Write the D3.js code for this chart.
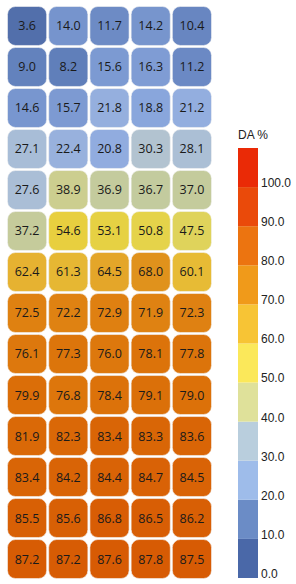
<!DOCTYPE html>
<html>
<head>
<meta charset="utf-8">
<script src="https://cdn.jsdelivr.net/npm/d3@7"></script>
<style>
  body { margin: 0; background: #fff; }
  svg { display: block; }
</style>
</head>
<body>
<div id="chart"></div>
<script>
// Data
const rows = d3.range(14);
const cols = d3.range(5);
const values = [
    [3.6, 14.0, 11.7, 14.2, 10.4],
    [9.0, 8.2, 15.6, 16.3, 11.2],
    [14.6, 15.7, 21.8, 18.8, 21.2],
    [27.1, 22.4, 20.8, 30.3, 28.1],
    [27.6, 38.9, 36.9, 36.7, 37.0],
    [37.2, 54.6, 53.1, 50.8, 47.5],
    [62.4, 61.3, 64.5, 68.0, 60.1],
    [72.5, 72.2, 72.9, 71.9, 72.3],
    [76.1, 77.3, 76.0, 78.1, 77.8],
    [79.9, 76.8, 78.4, 79.1, 79.0],
    [81.9, 82.3, 83.4, 83.3, 83.6],
    [83.4, 84.2, 84.4, 84.7, 84.5],
    [85.5, 85.6, 86.8, 86.5, 86.2],
    [87.2, 87.2, 87.6, 87.8, 87.5]
];
const legendTicks = [0, 10, 20, 30, 40, 50, 60, 70, 80, 90, 100];
const legendBands = d3.range(0, 110, 10);
const legendTitle = "DA %";

// Colours
const cellStops = [0, 10, 20, 25, 30, 37, 40, 50, 55, 62, 68, 72, 80, 88, 100];
const cellColors = ["#46639f", "#6685c0", "#8eaae0", "#a2b9da", "#b1c3d2", "#c4cb9c", "#d0d088",
    "#e4d44c", "#e8cf3e", "#e6b432", "#e0921c", "#df8212", "#db6e08", "#d75a04", "#d23a02"];
const bandColors = ["#4a68a8", "#6b8cc6", "#9ebcea", "#b9cedd", "#dfe19a", "#fbe85a",
    "#f7c435", "#f09a1a", "#ec7410", "#ea4a0a", "#ea2a06"];

const width = 296, height = 584;

const svg = d3.select("#chart").append("svg")
    .attr("width", width)
    .attr("height", height);

const x = d3.scaleBand().domain(cols).range([7.5, 211.5]).paddingInner(0.05);
const y = d3.scaleBand().domain(rows).range([6.5, 578.5]).paddingInner(0.05);
const color = d3.scaleLinear().domain(cellStops).range(cellColors).clamp(true);

const cells = [];
values.forEach((row, r) => row.forEach((v, c) => cells.push({ r, c, v })));

const cell = svg.append("g").attr("class", "cells")
    .selectAll("g").data(cells).join("g")
    .attr("transform", d => `translate(${x(d.c)},${y(d.r)})`);

cell.append("rect")
    .attr("width", x.bandwidth())
    .attr("height", y.bandwidth())
    .attr("rx", 8)
    .attr("fill", d => color(d.v))
    .attr("stroke", "#f4f4f4")
    .attr("stroke-width", 0.6);

cell.append("text")
    .attr("x", x.bandwidth() / 2)
    .attr("y", y.bandwidth() / 2)
    .attr("dy", "0.36em")
    .attr("text-anchor", "middle")
    .attr("font-family", "Open Sans")
    .attr("font-size", 12.5)
    .attr("fill", "#1a1a1a")
    .text(d => d.v.toFixed(1));

// Legend
const ly = d3.scaleLinear().domain([0, 110]).range([578, 148]);
const legend = svg.append("g").attr("class", "legend");

legend.selectAll("rect").data(legendBands).join("rect")
    .attr("x", 238)
    .attr("y", d => ly(d + 10))
    .attr("width", 20)
    .attr("height", d => ly(d) - ly(d + 10))
    .attr("fill", (d, i) => bandColors[i]);

const axis = d3.axisRight(ly).tickValues(legendTicks).tickSize(0).tickPadding(3)
    .tickFormat(d3.format(".1f"));

const axisG = legend.append("g").attr("transform", "translate(258,0)").call(axis);
axisG.select(".domain").remove();
axisG.selectAll("text")
    .attr("font-family", "Liberation Sans")
    .attr("font-size", 12)
    .attr("fill", "#222")
    .attr("dy", "-0.05em");

legend.append("text")
    .attr("x", 238)
    .attr("y", 139)
    .attr("font-family", "Liberation Sans")
    .attr("font-size", 12)
    .attr("fill", "#222")
    .text(legendTitle);
</script>
</body>
</html>
